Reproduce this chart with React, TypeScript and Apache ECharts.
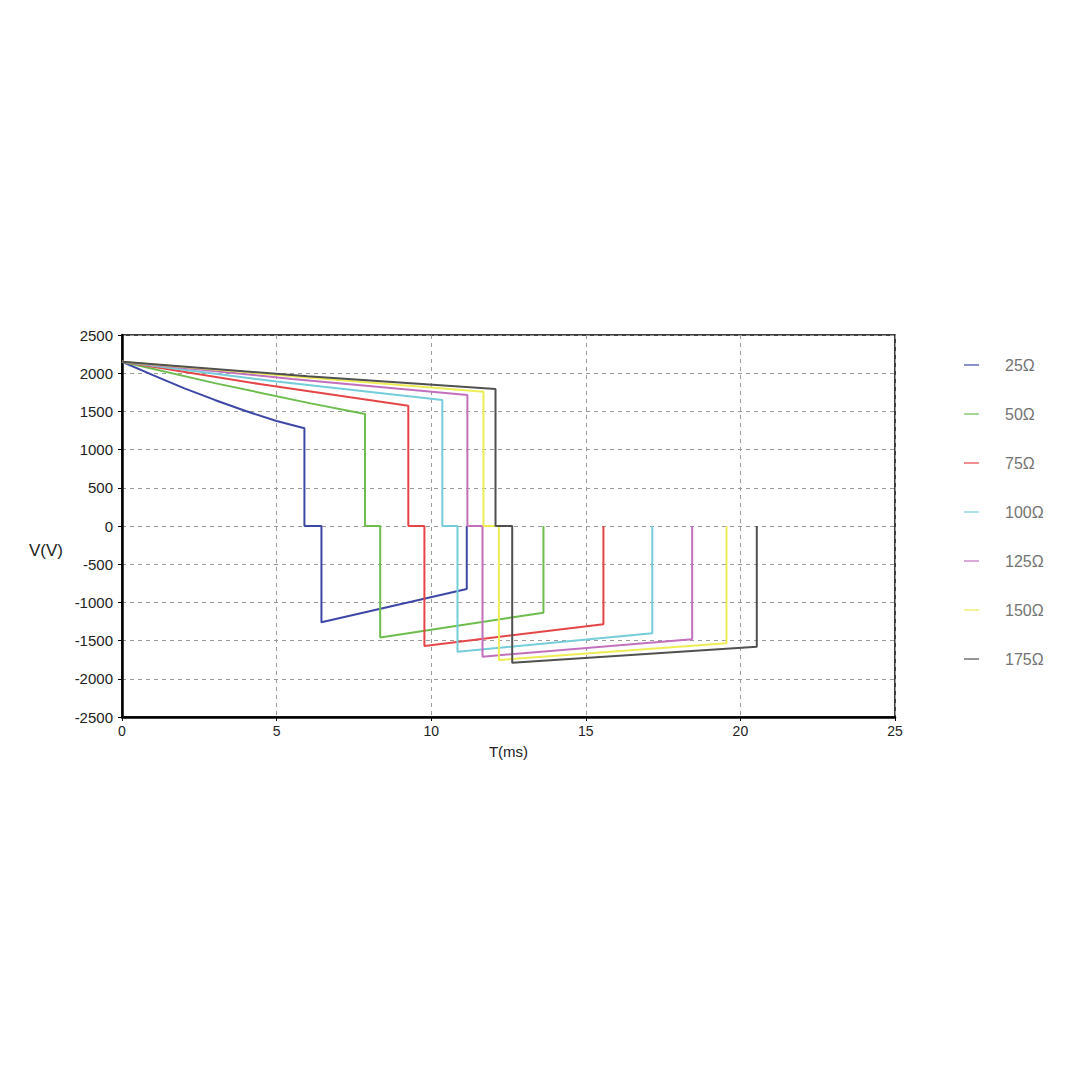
import React, { useEffect, useRef } from "react";
import * as echarts from "echarts";

const seriesNames = ["25Ω", "50Ω", "75Ω", "100Ω", "125Ω", "150Ω", "175Ω"];
const seriesColors = ["#3d47a6", "#6dbd4e", "#e64548", "#74cdd9", "#c270bd", "#eeec55", "#505050"];

// time (ms) and voltage (V) for each load
const t25 = [0, 1, 2, 3, 4, 5, 5.9, 5.9, 6.45, 6.45, 11.15, 11.15];
const v25 = [2150, 1975, 1805, 1650, 1505, 1375, 1280, 0, 0, -1260, -825, 0];

const t50 = [0, 3, 6.1, 7.86, 7.86, 8.35, 8.35, 13.63, 13.63];
const v50 = [2150, 1870, 1605, 1466, 0, 0, -1460, -1135, 0];

const t75 = [0, 4.5, 9.26, 9.26, 9.78, 9.78, 15.57, 15.57];
const v75 = [2150, 1855, 1575, 0, 0, -1570, -1287, 0];

const t100 = [0, 5, 10.36, 10.36, 10.85, 10.85, 17.15, 17.15];
const v100 = [2150, 1890, 1649, 0, 0, -1645, -1405, 0];

const t125 = [0, 5.5, 11.17, 11.17, 11.66, 11.66, 18.44, 18.44];
const v125 = [2150, 1925, 1715, 0, 0, -1710, -1483, 0];

const t150 = [0, 6, 11.69, 11.69, 12.19, 12.19, 19.55, 19.55];
const v150 = [2150, 1945, 1758, 0, 0, -1754, -1536, 0];

const t175 = [0, 6, 12.08, 12.08, 12.62, 12.62, 20.53, 20.53];
const v175 = [2150, 1960, 1793, 0, 0, -1789, -1580, 0];

const timeArrays = [t25, t50, t75, t100, t125, t150, t175];
const voltArrays = [v25, v50, v75, v100, v125, v150, v175];

const FONT = "Liberation Sans, Arial, sans-serif";

export default function App() {
  const ref = useRef<HTMLDivElement>(null);
  useEffect(() => {
    if (!ref.current) return;
    const chart = echarts.init(ref.current, undefined, { renderer: "svg" });
    const series = seriesNames.map((name, i) => ({
      name,
      type: "line",
      showSymbol: false,
      symbol: "none",
      color: seriesColors[i],
      lineStyle: { width: 2, color: seriesColors[i] },
      data: timeArrays[i].map((t, j) => [t, voltArrays[i][j]]),
    }));
    chart.setOption({
      animation: false,
      backgroundColor: "#ffffff",
      grid: {
        left: 122,
        right: 182,
        top: 335,
        bottom: 360,
        show: true,
        borderColor: "#000",
        borderWidth: 1.5,
        backgroundColor: "transparent",
      },
      legend: {
        orient: "vertical",
        left: 959,
        top: 352,
        icon: "rect",
        itemWidth: 15,
        itemHeight: 2,
        itemGap: 33,
        itemStyle: { opacity: 0.6 },
        textStyle: {
          fontFamily: FONT,
          fontSize: 16,
          color: "#747474",
          padding: [0, 0, 0, 21],
        },
        data: seriesNames,
      },
      xAxis: {
        type: "value",
        min: 0,
        max: 25,
        interval: 5,
        name: "T(ms)",
        nameLocation: "middle",
        nameGap: 27,
        nameTextStyle: { fontFamily: FONT, fontSize: 15, color: "#222" },
        axisLine: { onZero: false, lineStyle: { color: "#000", width: 2.5 } },
        axisTick: { show: true, length: 4, lineStyle: { color: "#000", width: 1 } },
        axisLabel: { fontFamily: FONT, fontSize: 14, color: "#222", margin: 7 },
        splitLine: { show: true, lineStyle: { color: "#9a9a9a", type: [4, 4], width: 1 } },
      },
      yAxis: {
        type: "value",
        min: -2500,
        max: 2500,
        interval: 500,
        axisLine: { show: true, onZero: false, lineStyle: { color: "#000", width: 2.5 } },
        axisTick: { show: true, length: 4, lineStyle: { color: "#000", width: 1 } },
        axisLabel: {
          fontFamily: FONT,
          fontSize: 15,
          color: "#222",
          margin: 9,
          formatter: (v: number) => String(v),
        },
        splitLine: { show: true, lineStyle: { color: "#9a9a9a", type: [4, 4], width: 1 } },
      },
      graphic: [
        {
          type: "text",
          left: 29,
          top: 542,
          style: { text: "V(V)", fontFamily: FONT, fontSize: 17, fill: "#222" },
        },
      ],
      series,
    });
    return () => chart.dispose();
  }, []);
  return <div ref={ref} style={{ width: 1077, height: 1077, margin: -8 }} />;
}
